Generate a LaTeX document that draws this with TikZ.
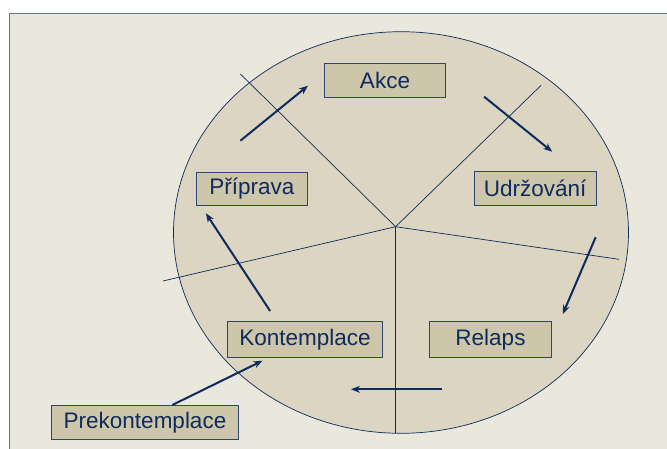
\documentclass[tikz,border=0pt]{standalone}
\usepackage{fontspec}
\setmainfont{Liberation Sans}
\usetikzlibrary{arrows.meta}

\definecolor{navy}{HTML}{0D2B5C}
\definecolor{framebg}{HTML}{EAE7DD}
\definecolor{framerule}{HTML}{5F7594}
\definecolor{boxrule}{HTML}{2C4670}
\definecolor{wheel}{HTML}{DCD5C2}
\definecolor{boxfill}{HTML}{CEC6AA}

\begin{document}
\begin{tikzpicture}[x=1pt,y=-1pt]
    \useasboundingbox (0,0) rectangle (667,448);
    \clip (0,0) rectangle (667,448);

    % background and wheel
    \fill[white] (0,0) rectangle (667,448);
    \draw[framerule,fill=framebg,line width=1pt] (9.5,13.5) rectangle (700,480);
    \draw[navy,fill=wheel,line width=0.7pt] (401,232.5) ellipse [x radius=227.5,y radius=200.8];

    % spokes
    \coordinate (c) at (395.6,226.7);
    \coordinate (s1) at (240.4,74);
    \coordinate (s2) at (541.1,85.3);
    \coordinate (s3) at (619,259.3);
    \coordinate (s4) at (395.6,433.3);
    \coordinate (s5) at (163,281);
    \foreach \s in {s1,s2,s3,s4,s5}
        \draw[navy,line width=0.7pt] (c) -- (\s);

    \begin{scope}[every node/.style={draw=boxrule,fill=boxfill,line width=0.9pt,
                  text=navy,inner sep=0pt,font=\fontsize{22.5}{26}\selectfont}]
        \node[minimum width=121.6,minimum height=34] (akce) at (385,80.3) {Akce};
        \node[minimum width=110.6,minimum height=32.6] (priprava) at (251.8,189) {Příprava};
        \node[minimum width=122.5,minimum height=34.3] (udrzovani) at (535.2,188.2) {Udržování};
        \node[minimum width=154.8,minimum height=36] (kontemplace) at (305,339.3) {Kontemplace};
        \node[minimum width=121.6,minimum height=36] (relaps) at (490.5,339.3) {Relaps};
        \node[minimum width=186.3,minimum height=33.3] (prekontemplace) at (145,422.3) {Prekontemplace};
    \end{scope}

    % arrow ends
    \coordinate (a1) at (240.4,140.7);
    \coordinate (b1) at (308,85.7);
    \coordinate (a2) at (484.1,96.7);
    \coordinate (b2) at (552.2,151.7);
    \coordinate (a3) at (595.6,237.3);
    \coordinate (b3) at (562.8,314);
    \coordinate (a4) at (441.6,389.3);
    \coordinate (b4) at (351,389.3);
    \coordinate (a5) at (270.1,311);
    \coordinate (b5) at (205.9,213.3);
    \coordinate (a6) at (172.3,405);
    \coordinate (b6) at (262.5,360.7);

    \begin{scope}[>={Stealth[navy,length=9pt,width=7pt]},
                  every edge/.style={draw=navy,line width=2pt}]
        \path [->] (a1) edge (b1);
        \path [->] (a2) edge (b2);
        \path [->] (a3) edge (b3);
        \path [->] (a4) edge (b4);
        \path [->] (a5) edge (b5);
        \path [->] (a6) edge (b6);
    \end{scope}
\end{tikzpicture}
\end{document}
